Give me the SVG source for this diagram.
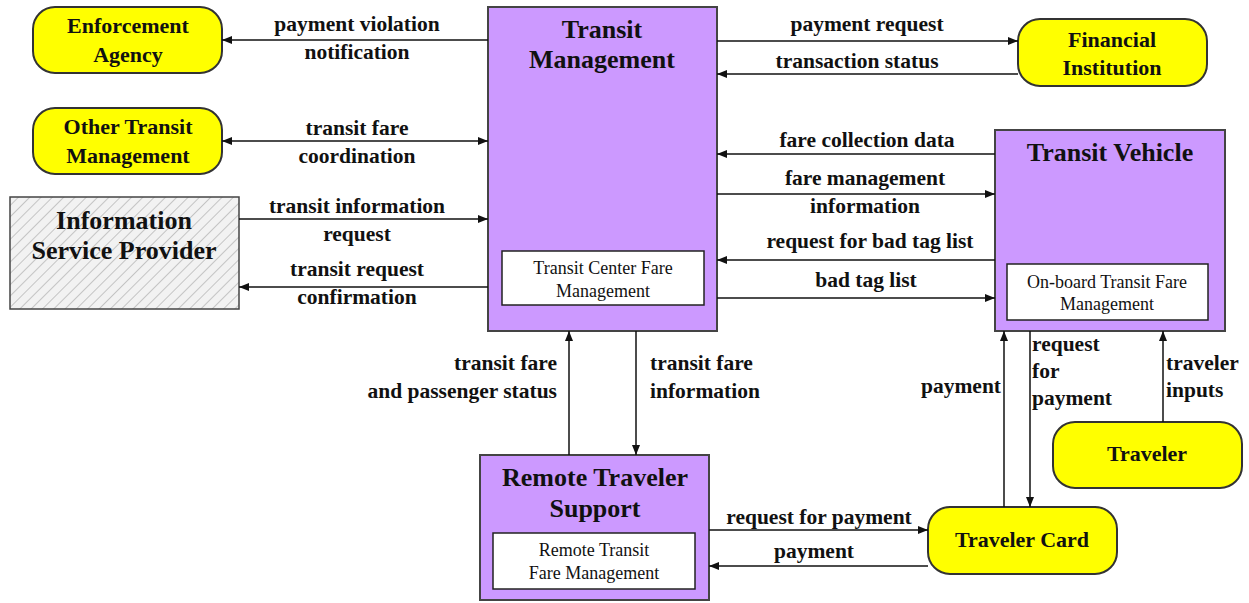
<svg xmlns="http://www.w3.org/2000/svg" width="1249" height="603" viewBox="0 0 1249 603">
<defs>
<marker id="ah" viewBox="0 0 10 10" refX="10" refY="5" markerWidth="10" markerHeight="10" markerUnits="userSpaceOnUse" orient="auto-start-reverse">
<path d="M0,1 L10,5 L0,9 Z" fill="#111"/>
</marker>
<pattern id="hatch" width="8" height="8" patternUnits="userSpaceOnUse" patternTransform="rotate(45)">
<rect width="8" height="8" fill="#f2f2f2"/>
<line x1="0" y1="0" x2="0" y2="8" stroke="#c4c4c4" stroke-width="2"/>
</pattern>
</defs>
<style>
.ext{fill:#ffff00;stroke:#333;stroke-width:2}
.sys{fill:#cc99ff;stroke:#444;stroke-width:2}
.inner{fill:#fff;stroke:#222;stroke-width:1.5}
.t{font-family:"Liberation Serif","Times New Roman",serif;font-weight:bold;fill:#111;text-anchor:middle}
.n{font-size:22px}
.big{font-size:26px}
.lbl{font-family:"Liberation Serif","Times New Roman",serif;font-weight:bold;font-size:21.5px;fill:#111;text-anchor:middle}
.lbl.s{text-anchor:start}
.lbl.e{text-anchor:end}
.sm{font-family:"Liberation Serif","Times New Roman",serif;font-size:18px;fill:#111;text-anchor:middle}
.c{fill:none;stroke:#111;stroke-width:1.5;marker-end:url(#ah)}
.cb{fill:none;stroke:#111;stroke-width:1.5;marker-end:url(#ah);marker-start:url(#ah)}
</style>
<rect width="1249" height="603" fill="#fff"/>

<g id="enforcement-agency">
<rect class="ext" x="33" y="7" width="189" height="66" rx="22"/>
<text class="t n" x="128" y="33">Enforcement</text>
<text class="t n" x="128" y="62">Agency</text>
</g>
<g id="other-transit-management">
<rect class="ext" x="33" y="108" width="189" height="66" rx="22"/>
<text class="t n" x="128" y="134">Other Transit</text>
<text class="t n" x="128" y="163">Management</text>
</g>
<g id="information-service-provider">
<rect x="10" y="197" width="229" height="112" fill="url(#hatch)" stroke="#444" stroke-width="1.5"/>
<text class="t big" x="124" y="229">Information</text>
<text class="t big" x="124" y="259">Service Provider</text>
</g>
<g id="transit-management">
<rect class="sys" x="488" y="7" width="229" height="324"/>
<text class="t big" x="602" y="38">Transit</text>
<text class="t big" x="602" y="68">Management</text>
<rect class="inner" x="502" y="251" width="202" height="54"/>
<text class="sm" x="603" y="274">Transit Center Fare</text>
<text class="sm" x="603" y="297">Management</text>
</g>
<g id="financial-institution">
<rect class="ext" x="1018" y="19" width="189" height="67" rx="22"/>
<text class="t n" x="1112" y="47">Financial</text>
<text class="t n" x="1112" y="75">Institution</text>
</g>
<g id="transit-vehicle">
<rect class="sys" x="995" y="130" width="230" height="201"/>
<text class="t big" x="1110" y="161">Transit  Vehicle</text>
<rect class="inner" x="1007" y="264" width="201" height="56"/>
<text class="sm" x="1107" y="288">On-board Transit Fare</text>
<text class="sm" x="1107" y="310">Management</text>
</g>
<g id="remote-traveler-support">
<rect class="sys" x="480" y="455" width="229" height="145"/>
<text class="t big" x="595" y="486">Remote Traveler</text>
<text class="t big" x="595" y="517">Support</text>
<rect class="inner" x="493" y="533" width="202" height="56"/>
<text class="sm" x="594" y="556">Remote Transit</text>
<text class="sm" x="594" y="579">Fare Management</text>
</g>
<g id="traveler-card">
<rect class="ext" x="928" y="507" width="189" height="67" rx="22"/>
<text class="t n" x="1022" y="547">Traveler Card</text>
</g>
<g id="traveler">
<rect class="ext" x="1053" y="422" width="189" height="66" rx="22"/>
<text class="t n" x="1147" y="461">Traveler</text>
</g>

<g id="connectors">
<path class="c" d="M488,40 H222"/>
<path class="cb" d="M222,141 H488"/>
<path class="c" d="M239,219 H488"/>
<path class="c" d="M488,287 H239"/>
<path class="c" d="M717,41 H1018"/>
<path class="c" d="M1018,74 H717"/>
<path class="c" d="M995,154 H717"/>
<path class="c" d="M717,194 H995"/>
<path class="c" d="M995,260 H717"/>
<path class="c" d="M717,298 H995"/>
<path class="c" d="M569,455 V331"/>
<path class="c" d="M636,331 V455"/>
<path class="c" d="M1004,507 V331"/>
<path class="c" d="M1030,331 V507"/>
<path class="c" d="M1163,422 V331"/>
<path class="c" d="M709,530 H928"/>
<path class="c" d="M928,566 H709"/>

<text class="lbl" x="357" y="31">payment violation</text>
<text class="lbl" x="357" y="59">notification</text>
<text class="lbl" x="357" y="135">transit fare</text>
<text class="lbl" x="357" y="163">coordination</text>
<text class="lbl" x="357" y="213">transit information</text>
<text class="lbl" x="357" y="241">request</text>
<text class="lbl" x="357" y="276">transit request</text>
<text class="lbl" x="357" y="304">confirmation</text>
<text class="lbl" x="867" y="31">payment request</text>
<text class="lbl" x="857" y="68">transaction status</text>
<text class="lbl" x="867" y="147">fare collection  data</text>
<text class="lbl" x="865" y="185">fare management</text>
<text class="lbl" x="865" y="213">information</text>
<text class="lbl" x="870" y="248">request for bad tag list</text>
<text class="lbl" x="866" y="287">bad tag list</text>
<text class="lbl e" x="557" y="370">transit fare</text>
<text class="lbl e" x="557" y="398">and passenger status</text>
<text class="lbl s" x="650" y="370">transit fare</text>
<text class="lbl s" x="650" y="398">information</text>
<text class="lbl e" x="1001" y="393">payment</text>
<text class="lbl s" x="1032" y="351">request</text>
<text class="lbl s" x="1032" y="378">for</text>
<text class="lbl s" x="1032" y="405">payment</text>
<text class="lbl s" x="1166" y="370">traveler</text>
<text class="lbl s" x="1166" y="397">inputs</text>
<text class="lbl" x="819" y="524">request for payment</text>
<text class="lbl" x="814" y="558">payment</text>
</g>
</svg>
